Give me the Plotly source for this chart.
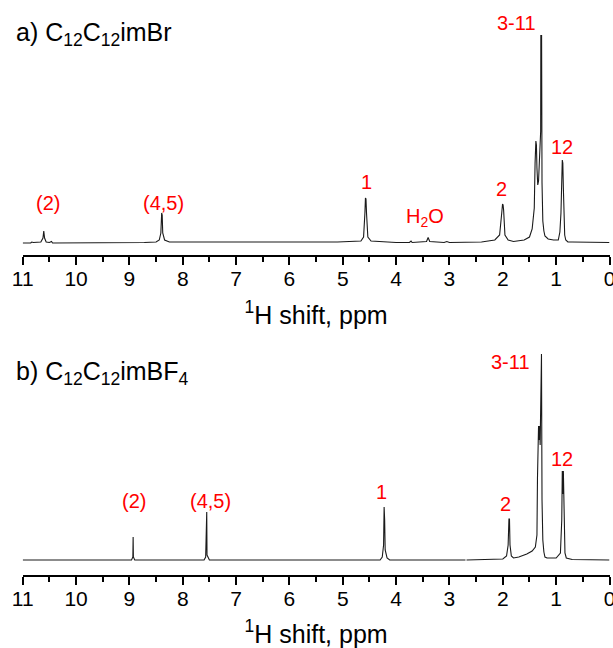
import plotly.graph_objects as go

# ---------------- data ----------------
# a) C12C12imBr spectrum: chemical shift (ppm) and intensity (a.u.)
a_ppm = [11.00, 10.85, 10.83, 10.80, 10.66, 10.62, 10.605, 10.59, 10.56, 10.50, 10.46, 10.44,
         8.72, 8.50, 8.44, 8.41, 8.395, 8.385, 8.375, 8.34, 8.25,
         5.10, 4.66, 4.61, 4.585, 4.575, 4.565, 4.555, 4.53, 4.47,
         4.00, 3.75, 3.72, 3.70, 3.43, 3.40, 3.37, 3.10, 3.05, 3.00,
         2.40, 2.15, 2.06, 2.02, 2.005, 1.995, 1.985, 1.96, 1.90, 1.80,
         1.60, 1.50, 1.45, 1.41, 1.395, 1.38, 1.37, 1.36, 1.345, 1.33, 1.31, 1.30, 1.29,
         1.287, 1.280, 1.273, 1.265, 1.25, 1.23, 1.21, 1.15, 1.05, 0.96,
         0.93, 0.91, 0.895, 0.885, 0.875, 0.865, 0.855, 0.84, 0.82, 0.78, 0.70, 0.40, 0.00]
a_int = [0, 0, 1, 0.5, 1, 5, 12, 5, 1, 0.5, 1.5, 0,
         0.5, 1, 3, 10, 30, 28, 10, 3, 1,
         1, 2, 6, 30, 45, 44, 30, 6, 2,
         0.5, 0.5, 2, 0.5, 1.5, 5.5, 1.5, 0.5, 1.5, 0.5,
         1, 3, 8, 30, 39, 38, 33, 8, 3, 1.5,
         3, 6, 14, 35, 80, 102, 98, 75, 58, 62, 100, 108, 112,
         208, 185, 208, 60, 22, 12, 7, 4, 3, 3,
         11, 30, 58, 83, 80, 55, 30, 8, 3, 1, 1, 0.5, 0.5]

# b) C12C12imBF4 spectrum
b_ppm = [11.00, 9.00, 8.96, 8.935, 8.93, 8.925, 8.90, 8.00,
         7.60, 7.57, 7.56, 7.555, 7.55, 7.545, 7.52, 7.50,
         4.30, 4.26, 4.235, 4.225, 4.215, 4.205, 4.17, 4.12,
         2.70, 2.695, 2.68,
         2.00, 1.93, 1.90, 1.885, 1.875, 1.865, 1.84, 1.80, 1.70, 1.55, 1.45, 1.39,
         1.36, 1.35, 1.33, 1.32, 1.31, 1.30, 1.285, 1.275, 1.265, 1.25, 1.23, 1.21,
         1.17, 1.15, 1.13, 1.00, 0.92, 0.895, 0.885, 0.875, 0.865, 0.855, 0.835, 0.81, 0.70, 0.00]
b_int = [0, 0, 0, 3, 23, 3, 0, 0,
         0, 3, 23, 20, 48, 5, 1, 0,
         0, 3, 15, 53, 40, 10, 2, 0,
         0, None, 0,
         1, 4, 15, 41, 41, 15, 4, 2, 3, 6, 9, 13,
         25, 82, 134, 120, 134, 115, 206, 206, 60, 20, 8, 3,
         2, 2, 1.5, 2, 7, 40, 89, 66, 89, 40, 7, 2, 0.5, 0]

# peak assignment labels: text, ppm position, label height (a.u.)
a_lab_text = ["(2)", "(4,5)", "1", "H<sub>2</sub>O", "2", "3-11", "12"]
a_lab_ppm = [10.53, 8.36, 4.56, 3.46, 2.02, 1.74, 0.89]
a_lab_y = [40, 40, 61, 26, 54, 220, 96]

b_lab_text = ["(2)", "(4,5)", "1", "2", "3-11", "12"]
b_lab_ppm = [8.91, 7.48, 4.27, 1.95, 1.85, 0.89]
b_lab_y = [59, 59, 68, 56, 198, 101]

panel_titles = ["a) C<sub>12</sub>C<sub>12</sub>imBr", "b) C<sub>12</sub>C<sub>12</sub>imBF<sub>4</sub>"]
x_title = "<sup>1</sup>H shift, ppm"
tick_vals = list(range(0, 12))

# ---------------- figure ----------------
W, H = 613, 648
FONT = "Arial, 'Liberation Sans', sans-serif"

fig = go.Figure()
fig.add_trace(go.Scatter(x=a_ppm, y=a_int, mode="lines", line=dict(color="#1a1a1a", width=1.1),
                         xaxis="x", yaxis="y", showlegend=False, hoverinfo="x+y"))
fig.add_trace(go.Scatter(x=b_ppm, y=b_int, mode="lines", line=dict(color="#1a1a1a", width=1.1),
                         xaxis="x2", yaxis="y2", showlegend=False, hoverinfo="x+y", connectgaps=False))

xl, xr = 22.7 / W, 609.5 / W
xaxis_common = dict(
    range=[11, 0], tickvals=tick_vals, ticktext=[str(v) for v in tick_vals],
    showline=True, linecolor="black", linewidth=2, mirror=False,
    ticks="outside", ticklen=8, tickwidth=2, tickcolor="black",
    minor=dict(ticks="outside", ticklen=5, tickwidth=2, tickcolor="black", dtick=0.5, tick0=0, showgrid=False),
    showgrid=False, zeroline=False, ticklabeloverflow="allow", automargin=False,
    ticklabelstandoff=-4,
    tickfont=dict(family=FONT, size=21, color="black"),
    title=dict(text=x_title, font=dict(family=FONT, size=25, color="black"), standoff=17),
    domain=[xl, xr],
)
fig.update_layout(
    width=W, height=H, margin=dict(l=0, r=0, t=0, b=0, pad=0, autoexpand=False),
    paper_bgcolor="white", plot_bgcolor="white",
    xaxis=dict(anchor="y", **xaxis_common),
    xaxis2=dict(anchor="y2", **xaxis_common),
    yaxis=dict(range=[-12, 235], domain=[1 - 255 / H, 1 - 8 / H], visible=False, fixedrange=True),
    yaxis2=dict(range=[-15, 225], domain=[1 - 575 / H, 1 - 335 / H], visible=False, fixedrange=True),
    showlegend=False,
)

anns = []
for t, xp, yp in zip(a_lab_text, a_lab_ppm, a_lab_y):
    anns.append(dict(text=t, x=xp, y=yp, xref="x", yref="y", showarrow=False,
                     font=dict(family=FONT, size=20, color="#ff0000"), xanchor="center", yanchor="middle"))
for t, xp, yp in zip(b_lab_text, b_lab_ppm, b_lab_y):
    anns.append(dict(text=t, x=xp, y=yp, xref="x2", yref="y2", showarrow=False,
                     font=dict(family=FONT, size=20, color="#ff0000"), xanchor="center", yanchor="middle"))
for t, yc in zip(panel_titles, [1 - 34 / H, 1 - 373 / H]):
    anns.append(dict(text=t, x=14 / W, y=yc, xref="paper", yref="paper", showarrow=False,
                     font=dict(family=FONT, size=25, color="black"), xanchor="left", yanchor="middle"))
fig.update_layout(annotations=anns)

fig.write_html("out.html")
